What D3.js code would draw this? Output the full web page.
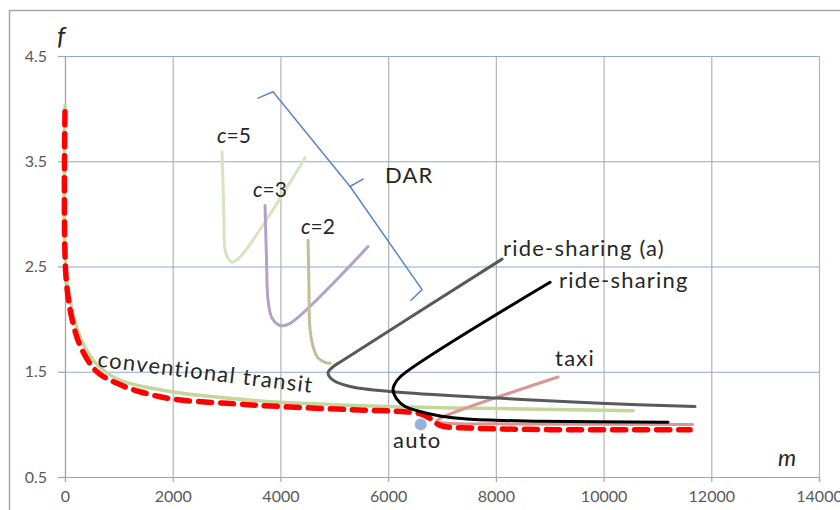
<!DOCTYPE html>
<html>
<head>
<meta charset="utf-8">
<script src="https://cdn.jsdelivr.net/npm/d3@7"></script>
<style>
  body { margin: 0; background: #fff; }
  svg { display: block; font-family: Lato, "Open Sans", sans-serif; }
</style>
</head>
<body>
<svg width="840" height="510"></svg>
<script>
// ticks
const xTicks = [0, 2000, 4000, 6000, 8000, 10000, 12000, 14000];
const yTicks = [0.5, 1.5, 2.5, 3.5, 4.5];

// curves, [m, f]
const transit = [[0,4.03],[19,2.47],[167,2.01],[353,1.75],[594,1.57],[1021,1.42],[1987,1.31],[3000,1.25],[3993,1.21],[5998,1.17],[8078,1.15],[10548,1.13]];
const envelope = [[0,3.97],[19,2.40],[149,1.96],[316,1.71],[594,1.50],[966,1.39],[1393,1.31],[2006,1.24],[3000,1.20],[3993,1.17],[5300,1.14],[6300,1.12],[6600,1.10],[6800,1.05],[6964,0.99],[7577,0.965],[9007,0.95],[11607,0.95]];
const dar5 = [[2916,3.59],[2950,3.0],[2971,2.66],[3027,2.58],[3101,2.54],[3250,2.59],[4457,3.53]];
const dar3 = [[3714,3.08],[3740,2.6],[3770,2.18],[3844,2.01],[3993,1.94],[4178,1.96],[5627,2.69]];
const dar2 = [[4513,2.75],[4530,2.3],[4550,1.90],[4624,1.71],[4699,1.63],[4828,1.59],[4921,1.58]];
const rideA = [[8115,2.57],[5163,1.61],[4958,1.54],[4884,1.49],[4977,1.42],[5293,1.36],[6091,1.31],[8022,1.25],[9935,1.20],[11699,1.17]];
const ride = [[9007,2.35],[6221,1.45],[6110,1.37],[6091,1.33],[6147,1.25],[6314,1.17],[6537,1.13],[6964,1.08],[7465,1.05],[8821,1.03],[11198,1.02]];
const taxi = [[9155,1.45],[7020,1.07],[6900,1.03],[7100,1.01],[8000,1.005],[11650,1.0]];
const auto = [6605, 1.0];
const brace = [[3584,4.10],[3863,4.16],[5293,3.26],[6630,2.28],[6425,2.18]];
const braceTip = [[5293,3.26],[5534,3.33]];

const labels = [
  {t: "DAR", at: [5942, 3.29]},
  {t: "ride-sharing (a)", at: [8134, 2.60]},
  {t: "ride-sharing", at: [9174, 2.30]},
  {t: "taxi", at: [9100, 1.55]},
  {t: "auto", at: [6091, 0.78]}
];
const cLabels = [
  {c: "5", at: [2823, 3.67]},
  {c: "3", at: [3491, 3.16]},
  {c: "2", at: [4383, 2.81]}
];

const svg = d3.select("svg");
const x = d3.scaleLinear().domain([0, 14000]).range([65, 819]);
const y = d3.scaleLinear().domain([0.5, 4.5]).range([477, 56]);

svg.append("rect")
  .attr("x", 9.5).attr("y", 10.5).attr("width", 850).attr("height", 520)
  .attr("fill", "none").attr("stroke", "#a6a6a6").attr("stroke-width", 1.5);

// vertical grid
svg.append("g")
  .attr("transform", `translate(0,${y(0.5)})`)
  .call(d3.axisBottom(x).tickValues(xTicks).tickSize(-(y(0.5) - y(4.5))).tickFormat(""))
  .call(g => g.select(".domain").remove())
  .call(g => g.selectAll("line").attr("stroke", "#b4b4b4").attr("stroke-width", 1.2));

// horizontal grid
svg.append("g")
  .attr("transform", `translate(${x(0)},0)`)
  .call(d3.axisLeft(y).tickValues(yTicks.slice(1)).tickSize(-(x(14000) - x(0))).tickFormat(""))
  .call(g => g.select(".domain").remove())
  .call(g => g.selectAll("line").attr("stroke", "#8eaad6").attr("stroke-width", 1.2));

// axes
const xAxis = svg.append("g")
  .attr("transform", `translate(0,${y(0.5)})`)
  .call(d3.axisBottom(x).tickValues(xTicks).tickSize(5).tickPadding(9).tickFormat(d3.format("d")));
const yAxis = svg.append("g")
  .attr("transform", `translate(${x(0)},0)`)
  .call(d3.axisLeft(y).tickValues(yTicks).tickSize(7).tickPadding(11).tickFormat(d3.format(".1f")));
[xAxis, yAxis].forEach(a => {
  a.select(".domain").attr("stroke", "#a6a6a6").attr("stroke-width", 1.2);
  a.selectAll("line").attr("stroke", "#a6a6a6").attr("stroke-width", 1.2);
  a.selectAll("text").attr("fill", "#595959").attr("font-size", 16).attr("font-family", "Lato, sans-serif");
});

const line = d3.line().x(d => x(d[0])).y(d => y(d[1])).curve(d3.curveCatmullRom.alpha(0.5));
const straight = d3.line().x(d => x(d[0])).y(d => y(d[1]));

function draw(data, color, width, gen, dash) {
  svg.append("path").datum(data)
    .attr("d", gen || line)
    .attr("fill", "none")
    .attr("stroke", color)
    .attr("stroke-width", width)
    .attr("stroke-linecap", "round")
    .attr("stroke-linejoin", "round")
    .attr("stroke-dasharray", dash || null);
}

draw(dar5, "#d7e4bd", 3);
draw(dar3, "#b3a2c7", 3);
draw(dar2, "#c4bd97", 3);
draw(brace, "#5b86c4", 1.5, straight);
draw(braceTip, "#5b86c4", 1.5, straight);
draw(transit, "#c3d69b", 3.5);
draw(taxi, "#d99694", 3);
draw(envelope, "#ff0000", 5.5, line, "13,9");
draw(rideA, "#595959", 3);
draw(ride, "#000000", 3);

svg.append("circle")
  .attr("cx", x(auto[0])).attr("cy", y(auto[1])).attr("r", 6)
  .attr("fill", "#95b3d7");

svg.append("g").selectAll("text")
  .data(labels)
  .join("text")
    .attr("x", d => x(d.at[0]))
    .attr("y", d => y(d.at[1]))
    .attr("font-size", 22)
    .attr("letter-spacing", 1.2)
    .attr("fill", "#262626")
    .text(d => d.t);

const cl = svg.append("g").selectAll("text")
  .data(cLabels)
  .join("text")
    .attr("x", d => x(d.at[0]))
    .attr("y", d => y(d.at[1]))
    .attr("font-size", 21)
    .attr("fill", "#262626");
cl.append("tspan").attr("font-style", "italic").text("c");
cl.append("tspan").text(d => "=" + d.c);

svg.append("text")
  .attr("transform", `translate(${x(594)},${y(1.55)}) rotate(7)`)
  .attr("font-size", 22)
  .attr("letter-spacing", 1.3)
  .attr("fill", "#262626")
  .text("conventional transit");

svg.append("text")
  .attr("x", 57).attr("y", 45)
  .attr("font-size", 26).attr("font-style", "italic").attr("fill", "#262626")
  .text("f");
svg.append("text")
  .attr("x", 778).attr("y", 466)
  .attr("font-size", 23).attr("font-style", "italic").attr("fill", "#262626")
  .text("m");
</script>
</body>
</html>
